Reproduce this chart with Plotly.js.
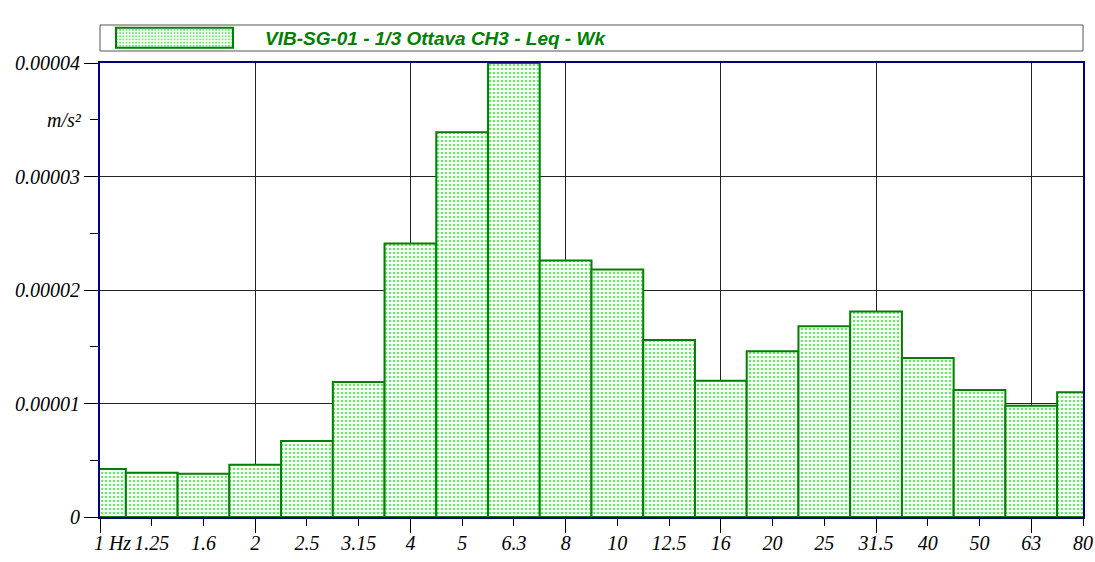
<!DOCTYPE html>
<html><head><meta charset="utf-8">
<script src="https://cdn.plot.ly/plotly-3.0.1.min.js"></script>
<style>html,body{margin:0;padding:0;background:#fff}#chart{width:1095px;height:562px}</style>
</head><body><div id="chart"></div>
<script>
const bandLabels = ['1 Hz','1.25','1.6','2','2.5','3.15','4','5','6.3','8','10','12.5','16','20','25','31.5','40','50','63','80'];
const leqValues = [4.24e-6, 3.9e-6, 3.8e-6, 4.6e-6, 6.7e-6, 1.19e-5, 2.41e-5, 3.39e-5, 4.0e-5, 2.26e-5, 2.18e-5, 1.56e-5, 1.20e-5, 1.46e-5, 1.68e-5, 1.81e-5, 1.40e-5, 1.12e-5, 9.8e-6, 1.10e-5];
const octaveLabels = ['1 Hz','2','4','8','16','31.5','63'];
const yTickValues = [0, 1e-5, 2e-5, 3e-5, 4e-5];
const yTickLabels = ['0','0.00001','0.00002','0.00003','0.00004'];
const seriesName = 'VIB-SG-01 - 1/3 Ottava CH3 - Leq - Wk';
const unitLabel = 'm/s²';

const idx = bandLabels.map((_, i) => i);
const octaveIdx = octaveLabels.map(l => bandLabels.indexOf(l));
const shownLabels = bandLabels.map(l => l === '1 Hz' ? '\u00a0\u00a0\u00a0\u00a0\u00a0' + l : l);

const serif = {family: 'Liberation Serif, Times New Roman, serif', size: 20, color: '#000', style: 'italic'};
const navy = '#000080';
const plotH = 562 - 63 - 45;

const traces = [
  {
    type: 'bar', x: idx, y: leqValues, name: seriesName, width: 1,
    marker: {
      color: '#f4fff4',
      line: {color: '#008000', width: 2},
      pattern: {shape: '.', fgcolor: '#3aea3a', bgcolor: '#f6fff6', size: 4, solidity: 0.22, fillmode: 'replace'}
    },
    hoverinfo: 'x+y', showlegend: true
  },
  {type: 'scatter', x: [], y: [], xaxis: 'x2', yaxis: 'y', showlegend: false, hoverinfo: 'skip'}
];

const layout = {
  width: 1095, height: 562,
  margin: {l: 100, r: 12, t: 63, b: 45},
  paper_bgcolor: '#fff', plot_bgcolor: '#fff',
  bargap: 0,
  showlegend: true,
  legend: {
    orientation: 'h', x: 0, xanchor: 'left', y: 1 + 25 / plotH, yanchor: 'middle',
    borderwidth: 0, bgcolor: 'rgba(0,0,0,0)',
    font: {family: 'Liberation Sans, Arial, sans-serif', size: 19, color: '#008000', weight: 'bold', style: 'italic'},
    itemwidth: 155
  },
  shapes: [{
    type: 'rect', xref: 'paper', yref: 'paper', x0: 0, x1: 1,
    y0: 1 + 12 / plotH, y1: 1 + 38 / plotH,
    line: {color: '#555', width: 1}, fillcolor: 'rgba(0,0,0,0)', layer: 'below'
  }],
  xaxis: {
    range: [0, idx.length - 1], tickmode: 'array', tickvals: octaveIdx, showticklabels: false,
    ticks: 'outside', ticklen: 14, tickcolor: '#000', tickwidth: 1,
    showgrid: true, gridcolor: '#222', gridwidth: 1, zeroline: false,
    showline: true, linecolor: navy, linewidth: 2, mirror: true, fixedrange: true
  },
  xaxis2: {
    overlaying: 'x', anchor: 'y', side: 'bottom', matches: 'x',
    range: [0, idx.length - 1], tickmode: 'array', tickvals: idx, ticktext: shownLabels,
    ticks: 'outside', ticklen: 8, tickcolor: '#000', tickwidth: 1,
    tickfont: serif, showgrid: false, zeroline: false, showline: false
  },
  yaxis: {
    range: [0, 4e-5], tickmode: 'array', tickvals: yTickValues, ticktext: yTickLabels,
    ticks: 'outside', ticklen: 14, tickcolor: '#000', tickwidth: 1, tickfont: serif,
    minor: {dtick: 5e-6, tick0: 0, ticks: 'outside', ticklen: 8, tickcolor: '#000', showgrid: false},
    showgrid: true, gridcolor: '#222', gridwidth: 1, zeroline: false,
    showline: true, linecolor: navy, linewidth: 2, mirror: true, fixedrange: true
  },
  annotations: [{
    text: unitLabel, xref: 'paper', x: 0, xanchor: 'right', xshift: -16,
    yref: 'y', y: 3.5e-5, yanchor: 'middle', showarrow: false, font: serif
  }]
};

function widenSwatch(gd) {
  const legendBox = gd.querySelector('.legend');
  const paths = gd.querySelectorAll('.legend .legendpoints path');
  if (!legendBox || !paths.length) return;
  const svgRect = gd.querySelector('.main-svg').getBoundingClientRect();
  paths.forEach(p => {
    p.setAttribute('d', 'M0,0');
    const g = p.parentNode;
    const r = g.getBoundingClientRect();
    const cx = r.left + r.width / 2 - svgRect.left;
    const dx = 174.5 - cx;
    p.setAttribute('d', 'M' + (dx - 58.5) + ',-10H' + (dx + 58.5) + 'V10H' + (dx - 58.5) + 'Z');
  });
}

Plotly.newPlot('chart', traces, layout, {displayModeBar: false, staticPlot: true}).then(gd => {
  widenSwatch(gd);
  gd.on('plotly_afterplot', () => widenSwatch(gd));
});
</script></body></html>
